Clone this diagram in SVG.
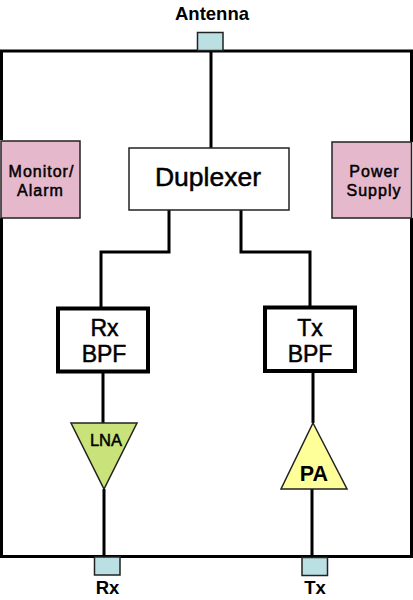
<svg xmlns="http://www.w3.org/2000/svg" width="413" height="600" viewBox="0 0 413 600">
<style>
text{font-family:"Liberation Sans",Arial,sans-serif;text-anchor:middle;fill:#000;stroke:#000;stroke-width:.5}
.b{font-weight:bold;stroke:none}
.w{fill:none;stroke:#000;stroke-width:3}
.port{fill:#bbe0e3;stroke:#222;stroke-width:1.500}
.side{fill:#e6b8cc;stroke:#222;stroke-width:1.500}
.bpf{fill:#fff;stroke:#000;stroke-width:4}
.s{font-size:16px;letter-spacing:1px}
.m{font-size:23px}
</style>
<rect width="413" height="600" fill="#fff"/>
<g id="connectors">
<path class="w" d="M1.500 140V51H411.500V142M1.500 218V556.500H411.500V218"/>
<path class="w" d="M211 51V148M169 210V252H101V308M241 210V252H310V307M103 373V423M104 489V556M313 372V423M312 489V556"/>
</g>
<g id="antenna"><rect class="port" x="197.500" y="32.500" width="25.500" height="18"/><text class="b" x="212" y="20" font-size="18.500">Antenna</text></g>
<g id="monitor"><rect class="side" x="1" y="141" width="79" height="77"/><text class="s" x="41.500" y="177">Monitor/</text><text class="s" x="40.500" y="196">Alarm</text></g>
<g id="power"><rect class="side" x="332" y="142" width="79.500" height="76"/><text class="s" x="374.500" y="177">Power</text><text class="s" x="374" y="196">Supply</text></g>
<g id="duplexer"><rect x="129" y="148" width="160" height="62" fill="#fff" stroke="#222" stroke-width="1.500"/><text x="208" y="186" font-size="26.500">Duplexer</text></g>
<g id="rxbpf"><rect class="bpf" x="58" y="308.500" width="90" height="63"/><text class="m" x="104.500" y="336">Rx</text><text class="m" x="104" y="362">BPF</text></g>
<g id="txbpf"><rect class="bpf" x="265" y="307.500" width="90" height="63.500"/><text class="m" x="310" y="336">Tx</text><text class="m" x="310" y="362">BPF</text></g>
<g id="lna"><polygon points="71,423 137,423 104,489" fill="#c9e27a" stroke="#222" stroke-width="1.500"/><text x="106" y="446" font-size="16.500">LNA</text></g>
<g id="pa"><polygon points="313,423 347,489 281,489" fill="#ffff99" stroke="#222" stroke-width="1.500"/><text class="b" x="314" y="481" font-size="21.500">PA</text></g>
<g id="rx"><rect class="port" x="94.500" y="557" width="25.500" height="18"/><text class="b" x="107.500" y="594" font-size="18.500">Rx</text></g>
<g id="tx"><rect class="port" x="302" y="557.500" width="25.500" height="18"/><text class="b" x="315" y="594" font-size="18.500">Tx</text></g>
</svg>
